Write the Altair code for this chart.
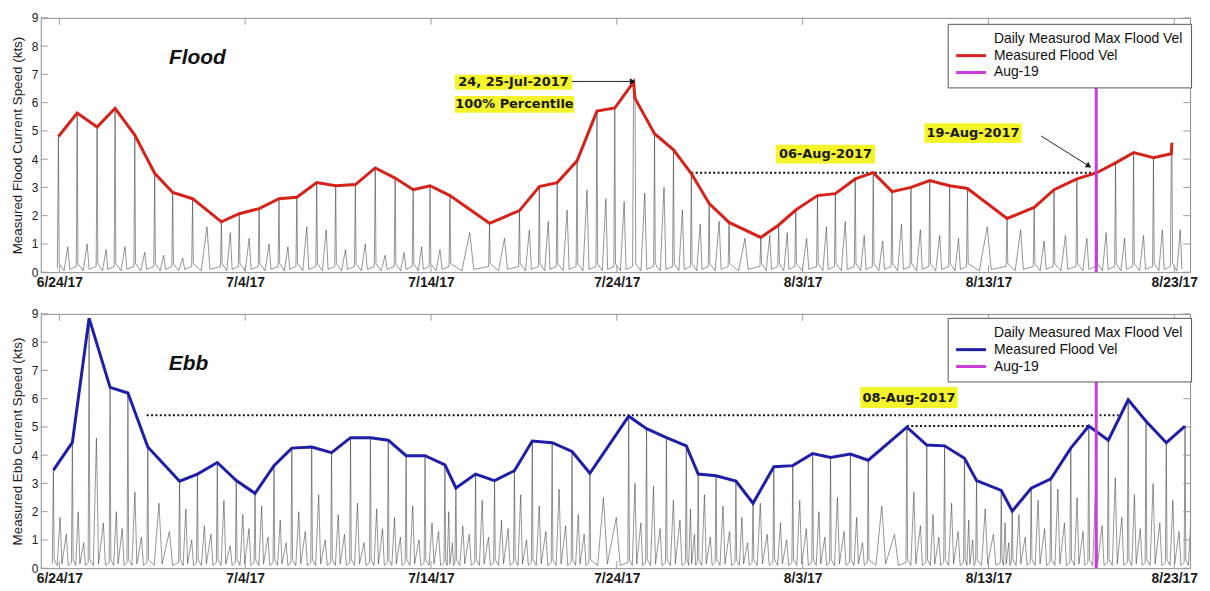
import altair as alt
import pandas as pd

# ---------------- data ----------------
# time in days after 2017-06-23 00:00
flood_t = [0.95, 1.96, 3.03, 4.00, 5.06, 6.13, 7.10, 8.17, 9.72, 10.68, 11.75, 12.82, 13.78, 14.85,
           15.87, 16.93, 18.00, 19.07, 20.04, 20.95, 22.02, 24.15, 25.76, 26.83, 27.79, 28.86, 29.93,
           30.89, 31.90, 31.98, 33.03, 34.05, 35.01, 35.97, 37.04, 38.75, 39.71, 40.63, 41.80, 42.76,
           43.83, 44.80, 45.81, 46.83, 47.84, 48.91, 49.87, 52.00, 53.46, 54.53, 55.76, 56.83, 57.84,
           58.81, 59.88, 60.84, 60.87]
flood_v = [4.80, 5.63, 5.14, 5.80, 4.85, 3.50, 2.82, 2.60, 1.78, 2.07, 2.25, 2.60, 2.65, 3.17,
           3.06, 3.10, 3.69, 3.33, 2.92, 3.06, 2.71, 1.73, 2.18, 3.03, 3.17, 3.94, 5.70,
           5.81, 6.73, 6.15, 4.90, 4.33, 3.49, 2.43, 1.76, 1.23, 1.67, 2.20, 2.71, 2.78,
           3.30, 3.52, 2.85, 3.00, 3.24, 3.06, 2.96, 1.90, 2.29, 2.92, 3.30, 3.52, 3.87,
           4.23, 4.05, 4.19, 4.58]
# secondary (smaller) flood peaks of the raw record, one after each daily maximum
flood_minor = [0.9, 1.0, 0.8, 0.9, 0.7, 0.6, 0.5, 1.6, 1.4, 1.2, 1.0, 0.9, 1.6, 1.5, 0.8, 1.0, 0.6,
               0.7, 0.9, 0.8, 1.4, 1.2, 1.5, 1.8, 2.2, 2.9, 2.6, 2.5, 0.0, 2.8, 3.0, 2.2, 1.7, 1.8,
               1.2, 1.3, 1.4, 1.2, 1.6, 1.8, 1.3, 1.1, 1.7, 1.5, 1.3, 1.2, 1.6, 1.5, 1.1, 1.3, 1.2,
               1.4, 1.2, 1.3, 1.5, 0.0, 1.5]

ebb_t = [0.68, 1.70, 2.60, 3.73, 4.69, 5.76, 7.47, 8.43, 9.50, 10.52, 11.53, 12.55, 13.51, 14.58,
         15.65, 16.67, 17.74, 18.70, 19.66, 20.68, 21.75, 22.34, 23.40, 24.42, 25.49, 26.45, 27.52,
         28.59, 29.55, 31.64, 32.60, 33.67, 34.74, 35.38, 36.34, 37.41, 38.33, 39.45, 40.47, 41.54,
         42.50, 43.57, 44.53, 46.61, 47.68, 48.64, 49.71, 50.36, 51.69, 52.28, 53.30, 54.36, 55.43,
         56.40, 57.45, 58.52, 59.48, 60.57, 61.58]
ebb_v = [3.47, 4.45, 8.85, 6.40, 6.20, 4.29, 3.08, 3.33, 3.74, 3.10, 2.65, 3.63, 4.25, 4.29,
         4.09, 4.62, 4.62, 4.53, 3.98, 3.98, 3.66, 2.84, 3.33, 3.10, 3.45, 4.50, 4.44,
         4.13, 3.36, 5.38, 4.94, 4.62, 4.33, 3.33, 3.27, 3.08, 2.30, 3.59, 3.63, 4.06,
         3.92, 4.04, 3.82, 4.99, 4.36, 4.33, 3.89, 3.10, 2.75, 2.02, 2.83, 3.16, 4.25,
         5.03, 4.53, 5.96, 5.20, 4.44, 5.03]
ebb_minor = [1.8, 2.0, 4.6, 2.0, 2.7, 2.3, 2.1, 1.5, 2.4, 1.9, 2.2, 1.7, 2.0, 2.6, 1.9, 2.3, 2.1,
             1.8, 2.2, 1.6, 2.0, 1.5, 2.4, 1.7, 2.6, 2.2, 2.8, 1.9, 2.5, 3.0, 2.9, 2.4, 2.1, 2.6,
             2.2, 1.8, 2.3, 1.6, 2.4, 2.0, 2.5, 1.8, 2.2, 2.7, 1.9, 2.3, 1.7, 2.1, 1.6, 1.9, 2.4,
             2.8, 2.5, 2.9, 3.2, 2.6, 3.0, 2.4, 1.8]
ebb_minor2 = [1.2, 0.9, 1.6, 1.4, 1.1, 1.3, 1.0, 1.2, 0.8, 1.4, 1.1, 0.9, 1.3, 1.0, 1.2, 0.9, 1.4,
              1.1, 1.0, 1.3, 0.9, 1.2, 1.1, 1.4, 1.0, 1.3, 1.5, 1.2, 1.8, 1.6, 1.4, 1.7, 1.2, 1.1,
              1.3, 0.9, 1.2, 1.0, 1.4, 1.1, 1.3, 0.9, 1.2, 1.5, 1.1, 1.3, 1.0, 1.2, 0.9, 1.1, 1.4,
              1.6, 1.3, 1.5, 1.8, 1.4, 1.6, 1.3, 1.0]

x_tick_dates = [(6, 24), (7, 4), (7, 14), (7, 24), (8, 3), (8, 13), (8, 23)]
y_ticks = [0, 1, 2, 3, 4, 5, 6, 7, 8, 9]
aug19_day = 56.8

# dotted reference levels: (start day, end day, value)
flood_dash_d0 = [35.01]
flood_dash_d1 = [56.80]
flood_dash_v = [3.52]
ebb_dash_d0 = [5.70, 46.61]
ebb_dash_d1 = [58.00, 56.40]
ebb_dash_v = [5.41, 5.03]

flood_note_text = ["24, 25-Jul-2017", "100% Percentile", "06-Aug-2017", "19-Aug-2017"]
flood_note_day = [25.44, 25.49, 42.23, 50.17]
flood_note_val = [6.72, 5.94, 4.18, 4.92]
ebb_note_text = ["08-Aug-2017"]
ebb_note_day = [46.72]
ebb_note_val = [6.04]

flood_arrow_d0 = [28.59, 53.83]
flood_arrow_d1 = [31.85, 56.40]
flood_arrow_v0 = [6.75, 4.82]
flood_arrow_v1 = [6.75, 3.76]

# ---------------- styles ----------------
W, H = 1157, 256
FLOOD_RED = "#d5231c"
EBB_BLUE = "#1e1ea6"
MAGENTA = "#cc3cd8"
YELLOW = "#f4f42a"
flood_box_half = [(59, 7.5), (60, 8.5), (50, 9.5), (49, 10)]
ebb_box_half = [(49, 10.5)]
arrow_angles = [0, 32]
LEG_PAD, LEG_ROW_PAD, LEG_FONT = 8, 3, 14
LEG_H = 2 * LEG_PAD + 3 * LEG_FONT + 2 * LEG_ROW_PAD

BASE = pd.Timestamp("2017-06-23")


def ts(d):
    return (BASE + pd.to_timedelta(d, unit="D")).strftime("%Y-%m-%dT%H:%M:%S")


xscale = alt.Scale(domain=[alt.DateTime(year=2017, month=6, date=23),
                           alt.DateTime(year=2017, month=8, date=23, hours=20, minutes=24)])
yscale = alt.Scale(domain=[0, 9], nice=False)
xaxis = alt.Axis(values=[alt.DateTime(year=2017, month=m, date=d) for m, d in x_tick_dates],
                 format="%-m/%-d/%y", labelFlush=False, labelOverlap=False, labelBound=False,
                 labelFont="Liberation Sans", labelFontSize=14, labelFontWeight="bold",
                 labelColor="#1a1a1a", labelPadding=3, ticks=False, domain=False, grid=False)


def yaxis(title):
    return alt.Axis(values=y_ticks, title=title, labelFont="Liberation Sans", labelFontSize=12,
                    labelColor="#1a1a1a", labelPadding=3, titleFont="Liberation Sans",
                    titleFontSize=13.5, titleFontWeight="normal", titleColor="#1a1a1a",
                    titlePadding=7, ticks=False, domain=False, grid=False)


def X(field):
    return alt.X(field, type="temporal", scale=xscale, axis=xaxis, title=None)


def thin_series(t, v, minors, minors2=None):
    pts = [(t[0] - 0.06, 0.15)]
    n = len(t)
    for i in range(n):
        pts.append((t[i], v[i]))
        g = t[i + 1] - t[i] if i < n - 1 else 0.9
        m = minors[i]
        if m <= 0:
            continue
        pts.append((t[i] + 0.04, 0.3))
        if minors2 is None:
            pts += [(t[i] + 0.3 * g, 0.05), (t[i] + 0.5 * g, m), (t[i] + 0.6 * g, 0.1)]
        else:
            pts += [(t[i] + 0.2 * g, 0.1), (t[i] + 0.35 * g, m), (t[i] + 0.45 * g, 0.15),
                    (t[i] + 0.68 * g, minors2[i]), (t[i] + 0.78 * g, 0.1)]
        if i < n - 1:
            pts.append((t[i + 1] - 0.05, 0.2))
    return pd.DataFrame({"d": [ts(p[0]) for p in pts], "v": [p[1] for p in pts]})


def panel(t, v, thin_df, line_name, legend_first, line_color, ytitle,
          dash_d0, dash_d1, dash_v, notes, box_half, arrows, label, label_day, label_val,
          legend_y):
    Y = lambda f: alt.Y(f, type="quantitative", scale=yscale, axis=yaxis(ytitle))
    cscale = alt.Scale(domain=[legend_first, line_name, "Aug-19"],
                       range=["#ffffff", line_color, MAGENTA])
    legend = alt.Legend(orient="none", legendX=913, legendY=legend_y, title=None,
                        direction="vertical", labelFont="Liberation Sans", labelFontSize=LEG_FONT,
                        labelColor="#111111", labelLimit=400, symbolType="M-3,0H3",
                        symbolSize=100, symbolStrokeWidth=3, symbolOffset=8.5,
                        labelOffset=16, rowPadding=LEG_ROW_PAD, padding=LEG_PAD,
                        strokeColor="#555555", fillColor="#ffffff", zindex=1)

    layers = []
    # raw record (thin line)
    layers.append(alt.Chart(thin_df).mark_line(color="#2e2e2e", strokeWidth=0.6, opacity=0.85,
                                               clip=True)
                  .encode(x=X("d"), y=Y("v")))
    # inward tick marks
    xt = pd.DataFrame({"d": [ts((pd.Timestamp(2017, m, d) - BASE).days) for m, d in x_tick_dates]})
    yt = pd.DataFrame({"v": y_ticks})
    tick = dict(color="#9a9a9a", strokeWidth=1)
    layers.append(alt.Chart(xt).mark_rule(**tick).encode(x=X("d"), y=alt.value(0), y2=alt.value(7)))
    layers.append(alt.Chart(xt).mark_rule(**tick).encode(x=X("d"), y=alt.value(H), y2=alt.value(H - 7)))
    layers.append(alt.Chart(yt).mark_rule(**tick).encode(y=Y("v"), x=alt.value(0), x2=alt.value(7)))
    layers.append(alt.Chart(yt).mark_rule(**tick).encode(y=Y("v"), x=alt.value(W), x2=alt.value(W - 7)))
    # dotted levels
    dash_df = pd.DataFrame({"d0": [ts(a) for a in dash_d0], "d1": [ts(b) for b in dash_d1],
                            "v": dash_v})
    layers.append(alt.Chart(dash_df).mark_rule(color="#111111", strokeWidth=2, strokeDash=[2, 2.4])
                  .encode(x=X("d0"), x2="d1", y=Y("v")))
    # daily maximum line
    line_df = pd.DataFrame({"d": [ts(a) for a in t], "v": v, "s": line_name})
    layers.append(alt.Chart(line_df).mark_line(strokeWidth=3)
                  .encode(x=X("d"), y=Y("v"),
                          color=alt.Color("s:N", scale=cscale, legend=legend)))
    # Aug-19 marker (runs from the axis up to the legend box)
    mag_df = pd.DataFrame({"d": [ts(aug19_day)], "s": ["Aug-19"]})
    layers.append(alt.Chart(mag_df).mark_rule(strokeWidth=3)
                  .encode(x=X("d"), y=alt.value(H), y2=alt.value(legend_y + LEG_H),
                          color=alt.Color("s:N", scale=cscale, legend=legend)))
    # arrows
    if arrows is not None:
        d0, d1, v0, v1 = arrows
        for i in range(len(d0)):
            adf = pd.DataFrame({"d0": [ts(d0[i])], "d1": [ts(d1[i])], "v0": [v0[i]], "v1": [v1[i]]})
            layers.append(alt.Chart(adf).mark_rule(color="#222222", strokeWidth=1)
                          .encode(x=X("d0"), x2="d1", y=Y("v0"), y2="v1"))
            layers.append(alt.Chart(adf).mark_point(shape="triangle-right", filled=True, size=40,
                                                    color="#111111", opacity=1,
                                                    angle=arrow_angles[i])
                          .encode(x=X("d1"), y=Y("v1")))
    # yellow labels
    texts, days, vals = notes
    for i in range(len(texts)):
        ndf = pd.DataFrame({"d": [ts(days[i])], "v": [vals[i]], "txt": [texts[i]]})
        hw, hh = box_half[i]
        layers.append(alt.Chart(ndf).mark_rect(color=YELLOW, xOffset=-hw, x2Offset=hw,
                                               yOffset=-hh, y2Offset=hh)
                      .encode(x=X("d"), x2="d", y=Y("v"), y2="v"))
        layers.append(alt.Chart(ndf).mark_text(font="DejaVu Sans", fontSize=13, fontWeight="bold",
                                               color="#1a1a1a", align="center", baseline="middle")
                      .encode(x=X("d"), y=Y("v"), text="txt:N"))
    # panel label
    ldf = pd.DataFrame({"d": [ts(label_day)], "v": [label_val], "txt": [label]})
    layers.append(alt.Chart(ldf).mark_text(font="Liberation Sans", fontSize=21, fontWeight="bold",
                                           fontStyle="italic", color="#111111", align="center",
                                           baseline="middle")
                  .encode(x=X("d"), y=Y("v"), text="txt:N"))
    return alt.layer(*layers).properties(width=W, height=H)


top = panel(flood_t, flood_v, thin_series(flood_t, flood_v, flood_minor),
            "Measured Flood Vel", "Daily Measurod Max Flood Vel", FLOOD_RED,
            "Measured Flood Current Speed (kts)",
            flood_dash_d0, flood_dash_d1, flood_dash_v,
            (flood_note_text, flood_note_day, flood_note_val), flood_box_half,
            (flood_arrow_d0, flood_arrow_d1, flood_arrow_v0, flood_arrow_v1),
            "Flood", 8.43, 7.59, 6)

bottom = panel(ebb_t, ebb_v, thin_series(ebb_t, ebb_v, ebb_minor, ebb_minor2),
               "Measured Flood Vel", "Daily Measured Max Flood Vel", EBB_BLUE,
               "Measured Ebb Current Speed (kts)",
               ebb_dash_d0, ebb_dash_d1, ebb_dash_v,
               (ebb_note_text, ebb_note_day, ebb_note_val), ebb_box_half,
               None, "Ebb", 7.95, 7.22, 4)

chart = (alt.vconcat(top, bottom, spacing=17)
         .resolve_scale(color="independent")
         .resolve_legend(color="independent")
         .properties(padding={"left": 1, "top": 1, "right": 4, "bottom": 0}, background="white")
         .configure_view(stroke="#8a8a8a", strokeWidth=1))

chart.save("out.html", embed_options={"renderer": "svg", "actions": False})
